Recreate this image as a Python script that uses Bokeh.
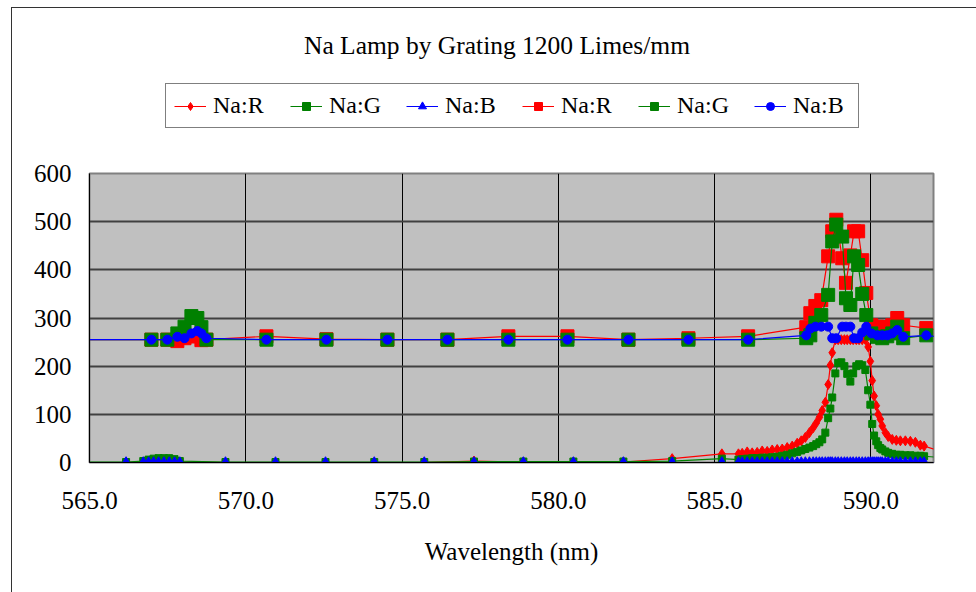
from bokeh.plotting import figure
from bokeh.layouts import column
from bokeh.models import (Legend, LegendItem, Label, FixedTicker,
                          PrintfTickFormatter, Range1d, InlineStyleSheet)
from bokeh.embed import file_html
from bokeh.resources import INLINE

FONT = "Liberation Serif"

# ---- spectrum sampled with the fine grid (channel values, 0..255) ----
small_nm = [564.40, 566.17, 566.72, 566.89, 567.05, 567.21, 567.38, 567.55, 567.72, 567.89,
            569.35, 570.95, 572.55, 574.11, 575.71, 577.30, 578.88, 580.48, 582.08, 583.64,
            585.23,
            585.76, 585.88, 586.04, 586.20, 586.36, 586.52, 586.68, 586.84, 587.00, 587.16,
            587.32, 587.48, 587.64, 587.77, 587.90, 588.03, 588.15, 588.25, 588.35, 588.44,
            588.54, 588.63, 588.70, 588.76, 588.86, 588.95, 589.05, 589.15, 589.24, 589.34,
            589.43, 589.53, 589.62, 589.72, 589.82, 589.91, 589.98, 590.04, 590.10, 590.17,
            590.23, 590.30, 590.36, 590.46, 590.55, 590.68, 590.81, 590.94, 591.10, 591.26,
            591.42, 591.58, 591.70, 592.30]

small_r = [0, 0, 1, 2, 2, 2, 2, 2, 2, 1,
           0, 0, 0, 0, 0, 3, 1, 1, 1, 8,
           18,
           18, 19, 22, 20, 21, 24, 23, 26, 27, 28,
           31, 34, 40, 45, 52, 62, 72, 82, 94, 108,
           125, 162, 202, 228, 255, 255, 255, 255, 255, 255,
           255, 255, 255, 255, 255, 240, 210, 170, 138, 118,
           100, 90, 76, 62, 54, 48, 46, 45, 45, 44,
           42, 36, 34, 22]

small_g = [1, 1, 3, 6, 8, 9, 9, 9, 7, 3,
           1, 1, 1, 1, 1, 2, 2, 2, 2, 3,
           8,
           6, 7, 8, 9, 9, 10, 10, 11, 12, 14,
           16, 19, 22, 25, 28, 31, 34, 38, 42, 48,
           62, 92, 112, 135, 185, 207, 208, 200, 184, 168,
           185, 200, 204, 202, 192, 150, 120, 80, 56, 44,
           36, 30, 27, 23, 20, 18, 16, 16, 15, 15,
           14, 14, 13, 10]

small_b = [0, 0, 0, 0, 0, 0, 0, 0, 0, 0,
           0, 0, 0, 0, 0, 0, 0, 0, 0, 0,
           0,
           0, 0, 0, 0, 0, 0, 0, 0, 0, 0,
           0, 0, 0, 0, 0, 0, 0, 0, 0, 0,
           0, 0, 0, 0, 0, 0, 0, 0, 0, 0,
           0, 0, 0, 0, 0, 0, 0, 0, 0, 0,
           0, 0, 0, 0, 0, 0, 0, 0, 0, 0,
           0, 0, 0, 0]

# ---- spectrum sampled with the coarse grid (offset exposure) ----
big_nm = [564.40, 566.98, 567.49, 567.81, 568.04, 568.26, 568.45, 568.58, 568.74, 570.66,
          572.58, 574.53, 576.45, 578.40, 580.29, 582.24, 584.16, 586.07,
          587.93, 588.06, 588.22, 588.41, 588.63, 588.76, 588.89, 589.08, 589.20, 589.34,
          589.46, 589.59, 589.72, 589.85, 590.01, 590.20, 590.36, 590.52, 590.68, 590.84,
          591.03, 591.77, 592.40]

big_r = [255, 255, 255, 252, 258, 262, 262, 254, 255, 262,
         256, 255, 255, 262, 262, 255, 258, 262,
         281, 310, 325, 337, 428, 480, 504, 424, 373, 430,
         480, 480, 420, 352, 285, 282, 281, 281, 285, 300,
         285, 279, 272]

big_g = [255, 255, 255, 268, 282, 304, 300, 281, 255, 255,
         255, 255, 255, 255, 255, 255, 255, 255,
         258, 264, 290, 306, 348, 459, 494, 469, 341, 327,
         428, 410, 350, 306, 268, 261, 258, 262, 268, 282,
         258, 264, 258]

big_b = [255, 255, 255, 261, 258, 268, 273, 268, 258, 255,
         255, 255, 255, 255, 255, 255, 255, 255,
         264, 278, 282, 282, 282, 258, 258, 282, 282, 282,
         258, 258, 270, 282, 268, 264, 264, 264, 268, 275,
         261, 264, 258]

x_ticks = [565, 570, 575, 580, 585, 590]
y_ticks = [0, 100, 200, 300, 400, 500, 600]
series_labels = ["Na:R", "Na:G", "Na:B", "Na:R", "Na:G", "Na:B"]
chart_title = "Na Lamp by Grating 1200 Limes/mm"
x_title = "Wavelength (nm)"

styles = [
    ("#FF0000", "diamond", 10),
    ("#008000", "square", 7),
    ("#0000FF", "triangle", 10),
    ("#FF0000", "square", 13),
    ("#008000", "square", 13),
    ("#0000FF", "circle", 9),
]

# ---------------- header: title and legend ----------------
# the column aligns this frame with the plot frame below (x 89..933 px),
# so the header ranges are expressed in page pixels
head = figure(width=976, height=150, output_backend="svg", toolbar_location=None,
              title=None, x_range=Range1d(89, 933), y_range=Range1d(150, 0),
              x_axis_location=None, y_axis_location=None,
              min_border=0, outline_line_color=None)
head.xgrid.visible = False
head.ygrid.visible = False
head.background_fill_color = "white"
head.border_fill_color = "white"

head.add_layout(Label(x=496.5, y=45, text=chart_title, text_align="center",
                      text_baseline="middle", text_font=FONT,
                      text_font_size="25.5px", text_color="black"))

nan = float("nan")
items = []
for (col, mk, sz), lab in zip(styles, series_labels):
    ln = head.line([nan], [nan], line_color=col, line_width=1.2)
    sc = head.scatter([nan], [nan], marker=mk, size=sz, fill_color=col, line_color=col)
    items.append(LegendItem(label=lab, renderers=[ln, sc]))

legend = Legend(items=items, orientation="horizontal", location=(76, 22),
                border_line_color="black", border_line_width=1,
                background_fill_color="white", background_fill_alpha=1,
                label_text_font=FONT, label_text_font_size="24px",
                label_text_color="black",
                glyph_width=32, glyph_height=20, label_standoff=7,
                spacing=20, padding=8, margin=0, label_width=57)
head.add_layout(legend)

# ---------------- main spectrum plot ----------------
p = figure(width=976, height=442, output_backend="svg", toolbar_location=None,
           title=None, x_range=Range1d(565, 592), y_range=Range1d(0, 600),
           min_border_left=89, min_border_right=43,
           min_border_top=23, min_border_bottom=130)

p.background_fill_color = "#C0C0C0"
p.border_fill_color = "white"
p.outline_line_color = "#808080"
p.outline_line_width = 2

for ax in (p.xaxis, p.yaxis):
    ax.major_tick_in = 0
    ax.major_tick_out = 0
    ax.minor_tick_in = 0
    ax.minor_tick_out = 0
    ax.axis_line_color = "black"
    ax.major_label_text_font = FONT
    ax.major_label_text_font_size = "25px"
    ax.major_label_text_color = "black"

p.xaxis.ticker = FixedTicker(ticks=x_ticks)
p.xaxis.formatter = PrintfTickFormatter(format="%.1f")
p.xaxis.major_label_standoff = 29
p.xaxis.axis_label = x_title
p.xaxis.axis_label_text_font = FONT
p.xaxis.axis_label_text_font_size = "25px"
p.xaxis.axis_label_text_font_style = "normal"
p.xaxis.axis_label_text_color = "black"
p.xaxis.axis_label_standoff = 26

p.yaxis.ticker = FixedTicker(ticks=y_ticks)
p.yaxis.major_label_standoff = 18

p.xgrid.ticker = FixedTicker(ticks=x_ticks)
p.xgrid.grid_line_color = "black"
p.xgrid.grid_line_width = 1
p.ygrid.ticker = FixedTicker(ticks=y_ticks)
p.ygrid.grid_line_color = "#404040"
p.ygrid.grid_line_width = 1.8

data = [(small_nm, small_r), (small_nm, small_g), (small_nm, small_b),
        (big_nm, big_r), (big_nm, big_g), (big_nm, big_b)]
for (xs, ys), (col, mk, sz) in zip(data, styles):
    p.line(xs, ys, line_color=col, line_width=1.2)
    p.scatter(xs, ys, marker=mk, size=sz, fill_color=col, line_color=col)

# chart-area frame line (left and top edges)
frame_css = InlineStyleSheet(css="""
:host { position: relative; }
:host::after {
  content: "";
  position: absolute;
  left: 11px; top: 7px; right: 0; bottom: 0;
  border-left: 1.5px solid #333333;
  border-top: 1.5px solid #333333;
  pointer-events: none;
  z-index: 10;
}
""")

page = column(head, p, spacing=0, stylesheets=[frame_css])

open("out.html", "w").write(file_html(page, INLINE))
